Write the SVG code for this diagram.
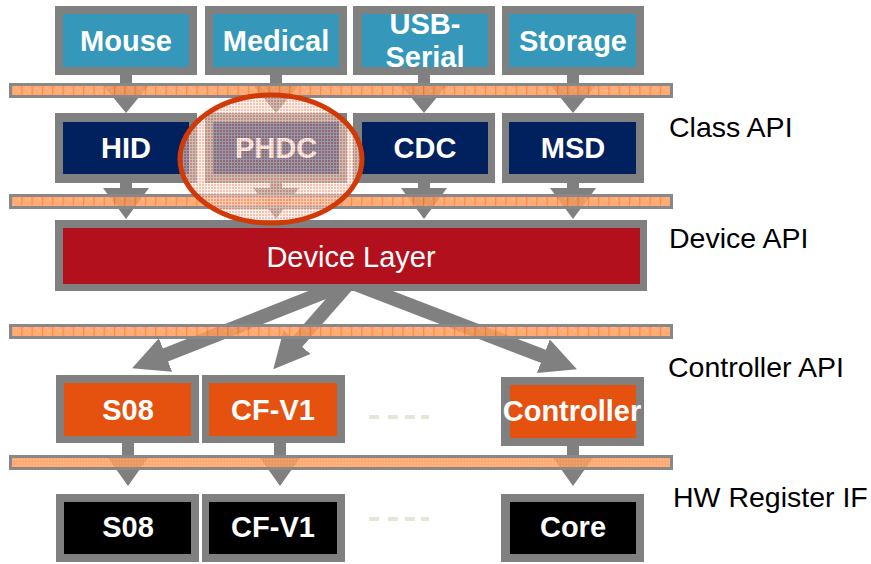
<svg xmlns="http://www.w3.org/2000/svg" width="871" height="564" viewBox="0 0 871 564">
<defs>
<style>
.frame{fill:#808080}
.teal{fill:#3597b9}
.navy{fill:#00205e}
.red{fill:#b3101e}
.orng{fill:#e5520f}
.blk{fill:#000}
.bt{font-family:"Liberation Sans",Arial,sans-serif;font-weight:bold;font-size:29px;fill:#fff;text-anchor:middle}
.rt{font-family:"Liberation Sans",Arial,sans-serif;font-size:29px;fill:#fff;text-anchor:middle}
.lbl{font-family:"Liberation Sans",Arial,sans-serif;font-size:28.5px;fill:#000}
.bar{stroke:#888;stroke-width:3}
.sarrow{fill:#808080}
.big{stroke:#808080;stroke-width:14;fill:none;marker-end:url(#bighead)}
.dash{fill:#e9e5d6}
</style>
<pattern id="barpat" width="10.3" height="12" patternUnits="userSpaceOnUse" x="11">
<rect width="10.3" height="12" fill="#ff9c5e"/>
<rect x="1.2" y="0" width="1.5" height="1.5" fill="#ffb484"/>
<rect x="4.2" y="3" width="1.5" height="1.5" fill="#ffb484"/>
<rect x="7.2" y="6" width="1.5" height="1.5" fill="#ffb484"/>
<rect x="0" width="1.2" height="12" fill="#ff7420"/>
</pattern>
<pattern id="barfine" width="3" height="3" patternUnits="userSpaceOnUse">
<rect width="3" height="3" fill="#ff9a56"/>
<rect width="1.5" height="1.5" fill="#ffb07c"/>
</pattern>
<pattern id="grid" width="3" height="3" patternUnits="userSpaceOnUse">
<rect width="3" height="3" fill="#f0987c"/>
<rect width="1" height="3" fill="#fde6de"/>
<rect width="3" height="1" fill="#fde6de"/>
</pattern>
<marker id="bighead" viewBox="0 0 36 36" refX="11" refY="18" markerWidth="36" markerHeight="36" markerUnits="userSpaceOnUse" orient="auto">
<path d="M0,0 L36,18 L0,36 Z" fill="#808080"/>
</marker>
</defs>
<rect width="871" height="564" fill="#fff"/>

<!-- connectors (drawn beneath bars) -->
<g id="connectors">
<g class="sarrow">
<path d="M120,75 h12 v10 h17 l-23,28 l-23,-28 h17 z"/>
<path d="M270,75 h12 v10 h17 l-23,28 l-23,-28 h17 z"/>
<path d="M418,75 h12 v10 h17 l-23,28 l-23,-28 h17 z"/>
<path d="M567,75 h12 v10 h17 l-23,28 l-23,-28 h17 z"/>
<path d="M120,183 h12 v5 h17 l-23,31 l-23,-31 h17 z"/>
<path d="M270,183 h12 v5 h17 l-23,31 l-23,-31 h17 z"/>
<path d="M418,183 h12 v5 h17 l-23,31 l-23,-31 h17 z"/>
<path d="M567,183 h12 v5 h17 l-23,31 l-23,-31 h17 z"/>
<path d="M122,443 h12 v12 h16 l-22,31 l-22,-31 h16 z"/>
<path d="M274,443 h12 v12 h16 l-22,31 l-22,-31 h16 z"/>
<path d="M567,446 h12 v9 h16 l-22,31 l-22,-31 h16 z"/>
</g>
<line class="big" x1="350" y1="282" x2="155.3" y2="359"/>
<line class="big" x1="350" y1="282" x2="289.8" y2="350.5"/>
<line class="big" x1="350" y1="282" x2="553.6" y2="360.2"/>
</g>

<!-- bars -->
<g id="bars">
<rect class="bar" x="10.5" y="84.5" width="661" height="12" fill="url(#barpat)" fill-opacity="0.85"/>
<rect class="bar" x="10.5" y="195.5" width="661" height="12" fill="url(#barpat)" fill-opacity="0.85"/>
<rect class="bar" x="10.5" y="325.5" width="661" height="12" fill="url(#barpat)" fill-opacity="0.85"/>
<rect class="bar" x="10.5" y="456.5" width="661" height="12" fill="url(#barfine)" fill-opacity="0.85"/>
</g>

<!-- top row -->
<g id="mouse"><rect class="frame" x="55" y="6" width="142" height="69"/><rect class="teal" x="63" y="14" width="126" height="53"/><text class="bt" x="126" y="51">Mouse</text></g>
<g id="medical"><rect class="frame" x="205" y="6" width="142" height="69"/><rect class="teal" x="213" y="14" width="126" height="53"/><text class="bt" x="276" y="51">Medical</text></g>
<g id="usbserial"><rect class="frame" x="353" y="6" width="142" height="69"/><rect class="teal" x="362" y="14" width="126" height="53"/><text class="bt" x="425" y="34">USB-</text><text class="bt" x="425" y="67">Serial</text></g>
<g id="storage"><rect class="frame" x="502" y="6" width="142" height="69"/><rect class="teal" x="509" y="14" width="127" height="53"/><text class="bt" x="573" y="51">Storage</text></g>

<!-- class row -->
<g id="hid"><rect class="frame" x="55" y="113" width="142" height="70"/><rect class="navy" x="63" y="122" width="126" height="52"/><text class="bt" x="126" y="158">HID</text></g>
<g id="phdc"><rect class="frame" x="205" y="113" width="142" height="70"/><rect class="navy" x="213" y="122" width="126" height="52"/><text class="bt" x="276" y="158">PHDC</text></g>
<g id="cdc"><rect class="frame" x="353" y="113" width="142" height="70"/><rect class="navy" x="362" y="122" width="126" height="52"/><text class="bt" x="425" y="158">CDC</text></g>
<g id="msd"><rect class="frame" x="502" y="113" width="142" height="70"/><rect class="navy" x="509" y="122" width="127" height="52"/><text class="bt" x="573" y="158">MSD</text></g>

<!-- device layer -->
<g id="device"><rect class="frame" x="55" y="220" width="592" height="71"/><rect class="red" x="63" y="228" width="577" height="56"/><text class="rt" x="351" y="267">Device Layer</text></g>

<!-- PHDC highlight -->
<g id="highlight">
<ellipse cx="271" cy="159" rx="91" ry="64" fill="url(#grid)" fill-opacity="0.6"/>
<ellipse cx="271" cy="159" rx="91" ry="64" fill="none" stroke="#d03a08" stroke-width="5"/>
</g>

<!-- controller row -->
<g id="s08c"><rect class="frame" x="56" y="375" width="143" height="68"/><rect class="orng" x="64" y="383" width="127" height="53"/><text class="bt" x="128" y="420">S08</text></g>
<g id="cfv1c"><rect class="frame" x="202" y="375" width="143" height="68"/><rect class="orng" x="209" y="383" width="128" height="53"/><text class="bt" x="273" y="420">CF-V1</text></g>
<g id="controller"><rect class="frame" x="501" y="377" width="143" height="69"/><rect class="orng" x="510" y="385" width="126" height="53"/><text class="bt" x="572" y="421">Controller</text></g>
<g id="dots1" class="dash"><rect x="369" y="415" width="10" height="4"/><rect x="388" y="415" width="10" height="4"/><rect x="405" y="415" width="10" height="4"/><rect x="421" y="415" width="8" height="4"/></g>

<!-- HW row -->
<g id="s08h"><rect class="frame" x="56" y="494" width="143" height="68"/><rect class="blk" x="64" y="502" width="127" height="52"/><text class="bt" x="128" y="537">S08</text></g>
<g id="cfv1h"><rect class="frame" x="202" y="494" width="143" height="68"/><rect class="blk" x="209" y="502" width="128" height="52"/><text class="bt" x="273" y="537">CF-V1</text></g>
<g id="core"><rect class="frame" x="501" y="494" width="143" height="68"/><rect class="blk" x="510" y="502" width="126" height="52"/><text class="bt" x="573" y="537">Core</text></g>
<g id="dots2" class="dash"><rect x="369" y="517" width="10" height="4"/><rect x="388" y="517" width="10" height="4"/><rect x="405" y="517" width="10" height="4"/><rect x="421" y="517" width="8" height="4"/></g>

<!-- labels -->
<g id="labels">
<text class="lbl" x="669" y="137">Class API</text>
<text class="lbl" x="669" y="248">Device API</text>
<text class="lbl" x="668" y="377">Controller API</text>
<text class="lbl" x="673" y="507">HW Register IF</text>
</g>
</svg>
